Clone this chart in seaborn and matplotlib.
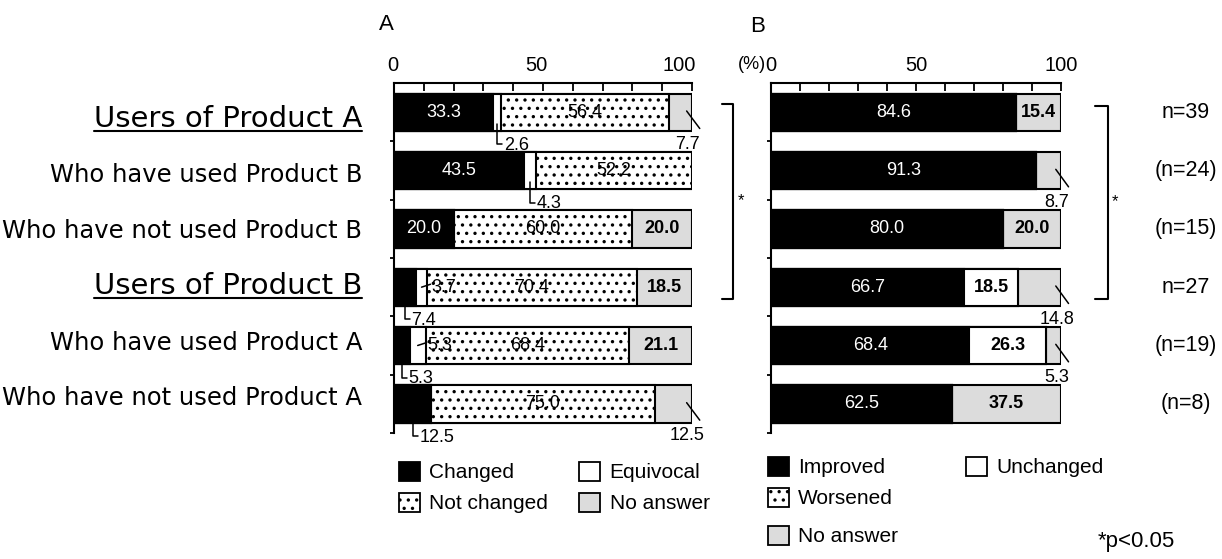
import numpy as np
import pandas as pd
import matplotlib
matplotlib.use("Agg")
import matplotlib.pyplot as plt
import matplotlib.transforms as mtransforms
import seaborn as sns
from matplotlib.patches import Patch
from matplotlib.lines import Line2D
from matplotlib.ticker import MultipleLocator, FixedLocator

# ---------------- data ----------------
groups = ["Users of Product A", "Who have used Product B", "Who have not used Product B",
          "Users of Product B", "Who have used Product A", "Who have not used Product A"]
header_groups = ["Users of Product A", "Users of Product B"]

a_categories = ["Changed", "Equivocal", "Not changed", "No answer"]
a_changed = [33.3, 43.5, 20.0, 7.4, 5.3, 12.5]
a_equivocal = [2.6, 4.3, 0.0, 3.7, 5.3, 0.0]
a_not_changed = [56.4, 52.2, 60.0, 70.4, 68.4, 75.0]
a_no_answer = [7.7, 0.0, 20.0, 18.5, 21.1, 12.5]

b_categories = ["Improved", "Unchanged", "Worsened", "No answer"]
b_improved = [84.6, 91.3, 80.0, 66.7, 68.4, 62.5]
b_unchanged = [0.0, 0.0, 0.0, 18.5, 26.3, 0.0]
b_worsened = [0.0, 0.0, 0.0, 0.0, 0.0, 0.0]
b_no_answer = [15.4, 8.7, 20.0, 14.8, 5.3, 37.5]

n_labels = ["n=39", "(n=24)", "(n=15)", "n=27", "(n=19)", "(n=8)"]
x_ticks = [0, 50, 100]

# label placement for each segment value
a_label_modes = [["in", "in", "in", "below", "below", "below"],
                 ["below", "below", None, "side", "side", None],
                 ["in", "in", "in", "in", "in", "in"],
                 ["diag", None, "in", "in", "in", "diag"]]
b_label_modes = [["in", "in", "in", "in", "in", "in"],
                 [None, None, None, "in", "in", None],
                 [None, None, None, None, None, None],
                 ["in", "diag", "in", "diag", "diag", "in"]]

# ---------------- style ----------------
sns.set_theme(style="white")
plt.rcParams["font.family"] = ["Liberation Sans", "DejaVu Sans"]
plt.rcParams["text.color"] = "black"
plt.rcParams["axes.edgecolor"] = "black"
plt.rcParams["xtick.color"] = "black"
plt.rcParams["ytick.color"] = "black"
plt.rcParams["hatch.color"] = "black"
plt.rcParams["hatch.linewidth"] = 1.2

GRAY = "#dcdcdc"
colors = ["black", "white", "white", GRAY]
hatches = [None, None, "..", None]
text_styles = [("white", "normal"), ("black", "bold"), ("black", "normal"), ("black", "bold")]

W, H = 1222, 559
fig = plt.figure(figsize=(W / 100, H / 100), dpi=100)


def px_axes(x0, x1, y0, y1):
    return fig.add_axes([x0 / W, 1 - y1 / H, (x1 - x0) / W, (y1 - y0) / H])


axA = px_axes(394, 692, 83, 433)
axB = px_axes(771, 1061, 83, 433)


def draw_stack(ax, segs, order_colors, order_hatches):
    cum = np.cumsum(np.array(segs, dtype=float), axis=0)
    for k in range(len(segs) - 1, -1, -1):
        df = pd.DataFrame({"group": groups, "value": cum[k]})
        sns.barplot(data=df, x="value", y="group", order=groups, orient="h",
                    color=order_colors[k], hatch=order_hatches[k], edgecolor="black",
                    linewidth=1.5, width=0.64, saturation=1, errorbar=None, ax=ax)
    return cum


def style_axis(ax, right_aligned):
    ax.set_xlim(0, 100)
    ax.set_ylim(5.5, -0.5)
    ax.set_xlabel("")
    ax.set_ylabel("")
    ax.set_facecolor("none")
    ax.xaxis.tick_top()
    ax.xaxis.set_major_locator(FixedLocator(x_ticks))
    ax.xaxis.set_minor_locator(MultipleLocator(10))
    ax.tick_params(axis="x", which="both", direction="in", length=6, width=1.3,
                   top=True, bottom=False, labeltop=True, labelbottom=False,
                   labelsize=14.5, pad=5.5)
    if right_aligned:
        shift = mtransforms.ScaledTranslation(4 / 100, 0, fig.dpi_scale_trans)
        for lab in ax.get_xticklabels():
            lab.set_horizontalalignment("right")
            lab.set_transform(lab.get_transform() + shift)
    ax.set_yticks([])
    ax.yaxis.set_minor_locator(FixedLocator(np.arange(0.5, 6, 1.0)))
    ax.tick_params(axis="y", which="minor", direction="out", length=3, width=1.3, left=True)
    for s in ["right", "bottom"]:
        ax.spines[s].set_visible(False)
    for s in ["top", "left"]:
        ax.spines[s].set_linewidth(1.5)
        ax.spines[s].set_color("black")


def seg_label(ax, r, x0, w, mode, color, weight):
    xc = x0 + w / 2
    txt = f"{w:.1f}"
    kw = dict(fontsize=13, clip_on=False)
    if mode == "in":
        ax.text(xc, r, txt, ha="center", va="center", color=color, fontweight=weight, **kw)
    elif mode == "below":
        yb = r + 0.55
        ax.plot([xc, xc, xc + 1.8], [r + 0.2, yb, yb], color="black", lw=1.1, clip_on=False)
        ax.text(xc + 2.2, r + 0.57, txt, ha="left", va="center", color="black", **kw)
    elif mode == "side":
        ax.plot([xc, xc + 3.0], [r, r - 0.05], color="black", lw=1.1, clip_on=False)
        ax.text(xc + 3.3, r, txt, ha="left", va="center", color="black", **kw)
    elif mode == "diag":
        ax.plot([98.2, 102.6], [r - 0.02, r + 0.28], color="black", lw=1.1, clip_on=False)
        ax.text(98.5, r + 0.55, txt, ha="center", va="center", color="black", **kw)


def label_panel(ax, segs, modes):
    arr = np.array(segs, dtype=float)
    starts = np.vstack([np.zeros(arr.shape[1]), np.cumsum(arr, axis=0)[:-1]])
    for k in range(arr.shape[0]):
        col, wt = text_styles[k]
        for r in range(arr.shape[1]):
            if modes[k][r] is not None:
                seg_label(ax, r, starts[k, r], arr[k, r], modes[k][r], col, wt)


a_segs = [a_changed, a_equivocal, a_not_changed, a_no_answer]
b_segs = [b_improved, b_unchanged, b_worsened, b_no_answer]

draw_stack(axA, a_segs, colors, hatches)
draw_stack(axB, b_segs, colors, hatches)
style_axis(axA, True)
style_axis(axB, False)
label_panel(axA, a_segs, a_label_modes)
label_panel(axB, b_segs, b_label_modes)

# category labels
lab_trans = mtransforms.offset_copy(
    mtransforms.blended_transform_factory(axA.transAxes, axA.transData), fig=fig, x=-32, y=0, units="dots")
header_texts = []
for r, g in enumerate(groups):
    is_head = g in header_groups
    t = axA.text(0, r + 0.25 - 0.045 * r, g, transform=lab_trans, ha="right", va="baseline",
                 fontsize=21 if is_head else 17.5, family=["DejaVu Sans"], color="black")
    if is_head:
        header_texts.append(t)

# n labels
for r, n in enumerate(n_labels):
    axB.text(143, r, n, ha="center", va="center", fontsize=15.5, clip_on=False)

# significance brackets
axA.plot([110.1, 113.8, 113.8, 110.1], [-0.14, -0.14, 3.2, 3.2], color="black", lw=1.5, clip_on=False)
axA.text(116.4, 1.52, "*", ha="center", va="center", fontsize=12, clip_on=False)
axB.plot([111.7, 116.2, 116.2, 111.7], [-0.1, -0.1, 3.21, 3.21], color="black", lw=1.5, clip_on=False)
axB.text(118.6, 1.54, "*", ha="center", va="center", fontsize=12, clip_on=False)

# (%) unit
axB.text(-1.8, 1.054, "(%)", transform=mtransforms.blended_transform_factory(axB.transData, axB.transAxes),
         ha="right", va="center", fontsize=13)

# panel letters
fig.text(386 / W, 1 - 24 / H, "A", ha="center", va="center", fontsize=16)
fig.text(758 / W, 1 - 26 / H, "B", ha="center", va="center", fontsize=16)
fig.text(1136 / W, 1 - 541 / H, "*p<0.05", ha="center", va="center", fontsize=16)


# legends
def handle(c, h):
    return Patch(facecolor=c, edgecolor="black", hatch=h, linewidth=1.3)


leg_kw = dict(frameon=False, fontsize=15, handlelength=1.0, handleheight=1.0, handletextpad=0.45,
              borderpad=0, borderaxespad=0, labelspacing=0.5, loc="upper left",
              bbox_transform=fig.transFigure)
ha_ = [handle(colors[i], hatches[i]) for i in range(4)]
fig.legend([ha_[0], ha_[2], ha_[1], ha_[3]],
           [a_categories[0], a_categories[2], a_categories[1], a_categories[3]],
           ncol=2, columnspacing=1.5, bbox_to_anchor=(399 / W, 1 - 462 / H), **leg_kw)
fig.legend([ha_[0], ha_[2]], [b_categories[0], b_categories[2]],
           bbox_to_anchor=(768 / W, 1 - 457 / H), **leg_kw)
fig.legend([ha_[1]], [b_categories[1]], bbox_to_anchor=(966 / W, 1 - 457 / H), **leg_kw)
fig.legend([ha_[3]], [b_categories[3]], bbox_to_anchor=(768 / W, 1 - 526 / H), **leg_kw)

# underline the group headers
fig.canvas.draw()
renderer = fig.canvas.get_renderer()
for t in header_texts:
    bb = t.get_window_extent(renderer)
    base_y = t.get_transform().transform(t.get_position())[1]
    p0 = fig.transFigure.inverted().transform((bb.x0, base_y - 4))
    p1 = fig.transFigure.inverted().transform((bb.x1, base_y - 4))
    fig.add_artist(Line2D([p0[0], p1[0]], [p0[1], p1[1]], transform=fig.transFigure, color="black", lw=1.5))

fig.savefig("out.png", dpi=100)
